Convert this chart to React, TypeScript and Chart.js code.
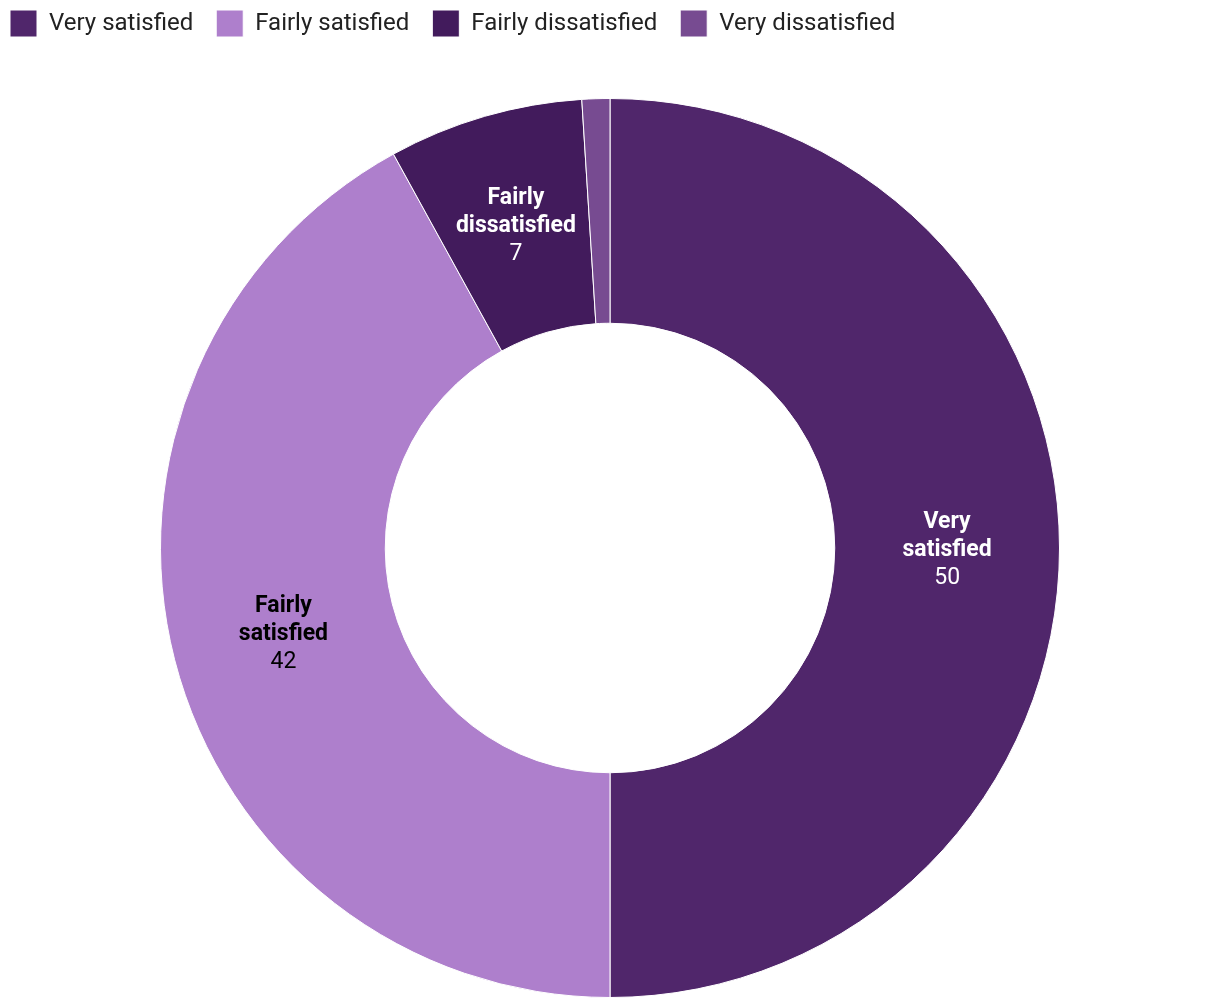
import React, { useEffect, useRef } from "react";
import { Chart, registerables } from "chart.js";

Chart.register(...registerables);

const categories = ["Very satisfied", "Fairly satisfied", "Fairly dissatisfied", "Very dissatisfied"];
const values = [50, 42, 7, 1];
const colors = ["#50266b", "#ae7fcc", "#421b5c", "#774b91"];
const labelLines: string[][] = [["Very", "satisfied"], ["Fairly", "satisfied"], ["Fairly", "dissatisfied"], []];
const labelColors = ["#ffffff", "#000000", "#ffffff", "#ffffff"];

const sliceLabels = {
  id: "sliceLabels",
  afterDatasetsDraw(chart: any) {
    const ctx = chart.ctx;
    const meta = chart.getDatasetMeta(0);
    meta.data.forEach((arc: any, i: number) => {
      const lines = labelLines[i];
      if (!lines || lines.length === 0) return;
      const p = arc.tooltipPosition();
      const all = [...lines, String(values[i])];
      const lh = 28;
      const startY = p.y + 2 - ((all.length - 1) * lh) / 2;
      ctx.save();
      ctx.textAlign = "center";
      ctx.textBaseline = "middle";
      ctx.fillStyle = labelColors[i];
      all.forEach((t, j) => {
        const isValue = j === all.length - 1;
        ctx.font = `${isValue ? "normal" : "bold"} 23px Roboto`;
        ctx.fillText(t, p.x, startY + j * lh);
      });
      ctx.restore();
    });
  },
};

const legendGap = {
  id: "legendGap",
  beforeInit(chart: any) {
    const legend = chart.legend;
    if (!legend) return;
    const origFit = legend.fit;
    legend.fit = function () {
      origFit.call(this);
      this.height += 51;
    };
  },
};

export default function App() {
  const ref = useRef<HTMLCanvasElement>(null);
  useEffect(() => {
    document.body.style.margin = "0";
    document.body.style.overflow = "hidden";
    const chart = new Chart(ref.current!, {
      type: "doughnut",
      data: {
        labels: categories,
        datasets: [
          {
            data: values,
            backgroundColor: colors,
            borderColor: "#ffffff",
            borderWidth: 1,
          },
        ],
      },
      options: {
        animation: false,
        responsive: false,
        cutout: "50%",
        layout: { padding: { top: 0, bottom: 10, left: 0, right: 0 } },
        plugins: {
          legend: {
            position: "top",
            align: "start",
            labels: {
              boxWidth: 27,
              boxHeight: 27,
              padding: 23,
              color: "#222222",
              font: { family: "Roboto", size: 24 },
            },
          },
          tooltip: { enabled: false },
        },
      },
      plugins: [legendGap, sliceLabels],
    });
    return () => chart.destroy();
  }, []);
  return (
    <div style={{ position: "absolute", left: -13, top: -13, width: 1246, height: 1021 }}>
      <canvas ref={ref} width={1246} height={1021} style={{ display: "block" }} />
    </div>
  );
}
